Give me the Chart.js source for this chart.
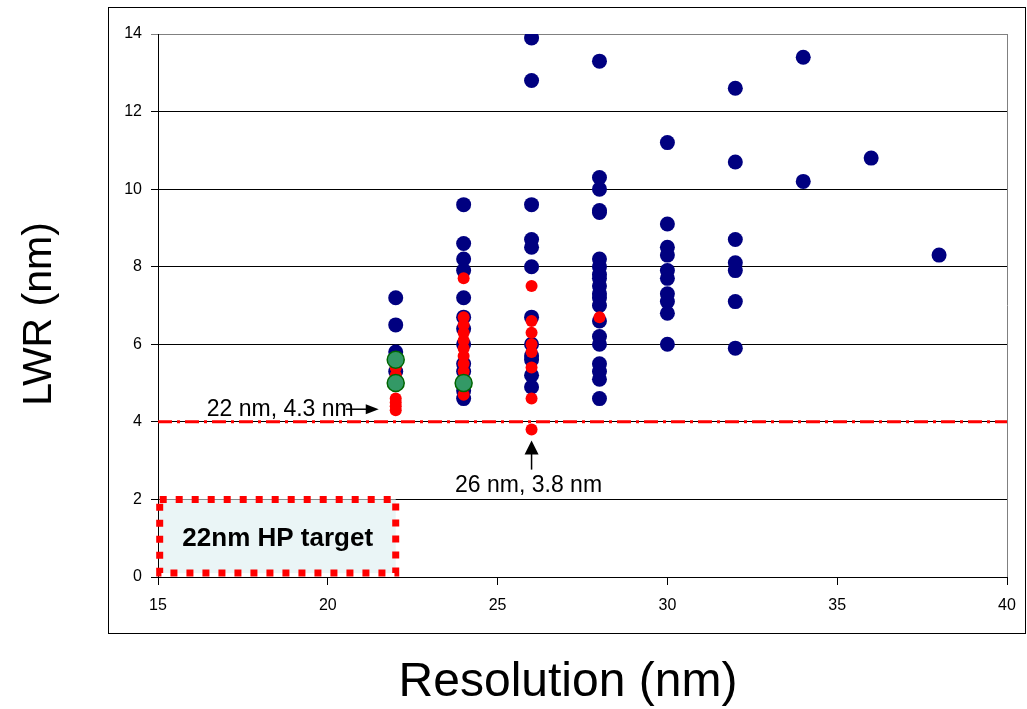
<!DOCTYPE html>
<html>
<head>
<meta charset="utf-8">
<title>LWR vs Resolution</title>
<script src="https://cdn.jsdelivr.net/npm/chart.js@4.4.1/dist/chart.umd.min.js"></script>
<style>
  html, body { margin: 0; padding: 0; background: #fff; }
  canvas { display: block; }
</style>
</head>
<body>
<canvas id="lwrChart" width="1027" height="709"></canvas>
<script>
// all results (navy)
const allRes = [22, 22, 22, 22, 22, 22,
  24, 24, 24, 24, 24, 24, 24, 24, 24, 24, 24, 24,
  26, 26, 26, 26, 26, 26, 26, 26, 26, 26, 26, 26,
  28, 28, 28, 28, 28, 28, 28, 28, 28, 28, 28, 28, 28, 28, 28, 28, 28, 28, 28, 28,
  30, 30, 30, 30, 30, 30, 30, 30, 30, 30,
  32, 32, 32, 32, 32, 32, 32,
  34, 34, 36, 38];
const allLwr = [7.2, 6.5, 5.8, 5.6, 5.3, 5.0,
  9.6, 8.6, 8.2, 7.9, 7.2, 6.7, 6.4, 6.0, 5.5, 5.3, 4.8, 4.6,
  13.9, 12.8, 9.6, 8.7, 8.5, 8.0, 6.7, 6.0, 5.7, 5.6, 5.2, 4.9,
  13.3, 10.3, 10.0, 9.45, 9.4, 8.2, 8.0, 7.8, 7.7, 7.5, 7.3, 7.2, 7.0, 6.6, 6.2, 6.0, 5.5, 5.3, 5.1, 4.6,
  11.2, 9.1, 8.5, 8.3, 7.9, 7.7, 7.3, 7.1, 6.8, 6.0,
  12.6, 10.7, 8.7, 8.1, 7.9, 7.1, 5.9,
  13.4, 10.2, 10.8, 8.3];

// recent results (red)
const newRes = [22, 22, 22, 22, 22, 22,
  24, 24, 24, 24, 24, 24, 24, 24, 24, 24, 24, 24,
  26, 26, 26, 26, 26, 26, 26, 26,
  28];
const newLwr = [5.4, 5.2, 4.6, 4.5, 4.4, 4.3,
  7.7, 6.7, 6.5, 6.3, 6.1, 5.9, 5.7, 5.5, 5.3, 5.1, 4.9, 4.7,
  7.5, 6.6, 6.3, 6.0, 5.8, 5.4, 4.6, 3.8,
  6.7];

// highlighted results (green)
const bestRes = [22, 22, 24];
const bestLwr = [5.6, 5.0, 5.0];

// LWR limit line and HP target region
const limitRes = [15, 40];
const limitLwr = [4, 4];
const targetRes = [15.05, 22];
const targetLwr = [0.1, 2.0];

const xRange = [15, 40];
const yRange = [0, 14];

const FONT = "'Liberation Sans', Arial, sans-serif";

function toPoints(xs, ys) {
    return xs.map((x, i) => ({ x: x, y: ys[i] }));
}

// box, annotations, frame and axis titles
const decorations = {
    id: 'decorations',
    beforeDatasetsDraw(chart) {
        const ctx = chart.ctx;
        const x = chart.scales.x, y = chart.scales.y;
        const l = x.getPixelForValue(targetRes[0]);
        const r = x.getPixelForValue(targetRes[1]);
        const t = y.getPixelForValue(targetLwr[1]);
        const b = y.getPixelForValue(targetLwr[0]);
        ctx.save();
        ctx.fillStyle = '#eaf5f6';
        ctx.fillRect(l, t, r - l, b - t);
        ctx.strokeStyle = '#ff0000';
        ctx.lineWidth = 7;
        ctx.setLineDash([7, 9]);
        ctx.strokeRect(l, t, r - l, b - t);
        ctx.setLineDash([]);
        ctx.fillStyle = '#000';
        ctx.font = 'bold 26px ' + FONT;
        ctx.textAlign = 'center';
        ctx.textBaseline = 'alphabetic';
        ctx.fillText('22nm HP target', (l + r) / 2, (t + b) / 2 + 10);
        ctx.restore();
    },
    afterDraw(chart) {
        const ctx = chart.ctx;
        const x = chart.scales.x, y = chart.scales.y;
        const area = chart.chartArea;
        ctx.save();

        // right border of the plot
        ctx.strokeStyle = '#808080';
        ctx.lineWidth = 1;
        ctx.beginPath();
        ctx.moveTo(Math.round(area.right) + 0.5, area.top);
        ctx.lineTo(Math.round(area.right) + 0.5, area.bottom);
        ctx.stroke();

        // outer frame
        ctx.strokeStyle = '#000';
        ctx.strokeRect(108.5, 7.5, 917, 626);

        ctx.fillStyle = '#000';
        ctx.strokeStyle = '#000';

        // 22 nm, 4.3 nm
        const ax = x.getPixelForValue(22) - 17;
        const ay = y.getPixelForValue(4.3) - 1;
        ctx.lineWidth = 1.5;
        ctx.beginPath();
        ctx.moveTo(ax - 33, ay);
        ctx.lineTo(ax - 10, ay);
        ctx.stroke();
        ctx.beginPath();
        ctx.moveTo(ax, ay);
        ctx.lineTo(ax - 13, ay - 5);
        ctx.lineTo(ax - 13, ay + 5);
        ctx.closePath();
        ctx.fill();
        ctx.font = '23px ' + FONT;
        ctx.textAlign = 'right';
        ctx.textBaseline = 'alphabetic';
        ctx.fillText('22 nm, 4.3 nm', ax - 25, ay + 7);

        // 26 nm, 3.8 nm
        const bx = x.getPixelForValue(26);
        const by = y.getPixelForValue(3.8) + 11;
        ctx.beginPath();
        ctx.moveTo(bx, by + 10);
        ctx.lineTo(bx, by + 29);
        ctx.stroke();
        ctx.beginPath();
        ctx.moveTo(bx, by);
        ctx.lineTo(bx - 7, by + 14);
        ctx.lineTo(bx + 7, by + 14);
        ctx.closePath();
        ctx.fill();
        ctx.textAlign = 'center';
        ctx.fillText('26 nm, 3.8 nm', bx - 3, by + 51);

        // axis titles
        ctx.textAlign = 'center';
        ctx.textBaseline = 'middle';
        ctx.font = '48px ' + FONT;
        ctx.fillText('Resolution (nm)', 568, 683);
        ctx.font = '41px ' + FONT;
        ctx.translate(40, 314);
        ctx.rotate(-Math.PI / 2);
        ctx.fillText('LWR (nm)', 0, 0);
        ctx.restore();
    }
};

document.addEventListener('DOMContentLoaded', function() {
    const ctx = document.getElementById('lwrChart').getContext('2d');
    new Chart(ctx, {
        type: 'scatter',
        data: {
            datasets: [{
                data: toPoints(bestRes, bestLwr),
                backgroundColor: '#339966',
                borderColor: '#006600',
                borderWidth: 1.5,
                pointRadius: 8.5,
                pointHoverRadius: 8.5,
                order: 0
            }, {
                data: toPoints(newRes, newLwr),
                backgroundColor: '#ff0000',
                borderWidth: 0,
                pointRadius: 6,
                pointHoverRadius: 6,
                order: 1
            }, {
                data: toPoints(allRes, allLwr),
                backgroundColor: '#000080',
                borderWidth: 0,
                pointRadius: 7.5,
                pointHoverRadius: 7.5,
                order: 2
            }, {
                type: 'line',
                data: toPoints(limitRes, limitLwr),
                borderColor: '#ff0000',
                borderWidth: 3,
                borderDash: [14, 5, 3, 5],
                pointRadius: 0,
                fill: false,
                order: 3
            }]
        },
        options: {
            responsive: false,
            animation: false,
            events: [],
            layout: { padding: { left: 0, top: 34, right: 20, bottom: 0 } },
            plugins: {
                legend: { display: false },
                tooltip: { enabled: false }
            },
            scales: {
                x: {
                    type: 'linear',
                    min: xRange[0],
                    max: xRange[1],
                    ticks: { stepSize: 5, color: '#000', font: { family: FONT, size: 16 }, padding: 11 },
                    grid: { drawOnChartArea: false, color: '#000', tickLength: 8 },
                    border: { color: '#000' },
                    afterFit(scale) { scale.height = 132; }
                },
                y: {
                    min: yRange[0],
                    max: yRange[1],
                    ticks: { stepSize: 2, color: '#000', font: { family: FONT, size: 16 }, padding: 9 },
                    grid: {
                        color: c => (c.tick && c.tick.value === yRange[1]) ? '#808080' : '#000',
                        tickLength: 7
                    },
                    border: { color: '#000' },
                    afterFit(scale) { scale.width = 158; }
                }
            }
        },
        plugins: [decorations]
    });
});
</script>
</body>
</html>
